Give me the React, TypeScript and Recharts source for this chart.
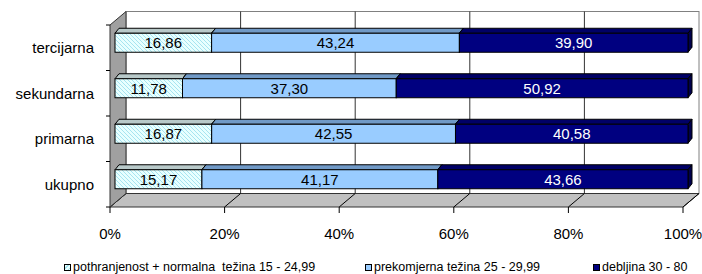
import { BarChart, Bar, XAxis, YAxis } from "recharts";

const categories = ["tercijarna", "sekundarna", "primarna", "ukupno"];
const normalValues = [16.86, 11.78, 16.87, 15.17];
const overweightValues = [43.24, 37.3, 42.55, 41.17];
const obeseValues = [39.9, 50.92, 40.58, 43.66];
const xTicks = [0, 20, 40, 60, 80, 100];
const seriesNames = [
  "pothranjenost + normalna  težina 15 - 24,99",
  "prekomjerna težina 25 - 29,99",
  "debljina 30 - 80",
];

const data = categories.map((name, i) => ({
  name,
  normal: normalValues[i],
  over: overweightValues[i],
  obese: obeseValues[i],
}));

// chart layout, shared by the chart and the 3d box drawn behind it
const W = 702;
const H = 274;
const MARGIN = { top: 25, right: 19, bottom: 37, left: 0 };
const YAXIS_W = 110;
const XAXIS_H = 30;
const PLOT = {
  left: MARGIN.left + YAXIS_W,
  top: MARGIN.top,
  width: W - MARGIN.left - YAXIS_W - MARGIN.right,
  height: H - MARGIN.top - MARGIN.bottom - XAXIS_H,
};

// excel-like 3d look: depth of the whole box and of each bar
const DEPTH = { dx: 16, dy: -13.5 };
const BAR_SHIFT = { dx: 5, dy: -4.75 };
const BAR_DEPTH = { dx: 4, dy: -5 };

const series = [
  { key: "normal", front: "url(#hatch)", top: "#B8C9C9", side: "#9DB0B0", text: "#000", legend: "repeating-linear-gradient(135deg,#E6FFFF 0 2px,#A6E4F0 2px 3px)", left: 64 },
  { key: "over", front: "#99CCFF", top: "#7099C6", side: "#5A82B0", text: "#000", legend: "#99CCFF", left: 365 },
  { key: "obese", front: "#000080", top: "#000066", side: "#00004D", text: "#fff", legend: "#000080", left: 593 },
];

const fmt = (v: number) => v.toFixed(2).replace(".", ",");

function make3DBar(key: string, style: (typeof series)[number]) {
  return (props: any) => {
    const { x, y, width, height, payload } = props;
    if (width == null || width <= 0) return <g />;
    const fx = x + BAR_SHIFT.dx;
    const fy = y + BAR_SHIFT.dy;
    const r = fx + width;
    const b = fy + height;
    const { dx, dy } = BAR_DEPTH;
    return (
      <g>
        <polygon
          points={`${fx},${fy} ${fx + dx},${fy + dy} ${r + dx},${fy + dy} ${r},${fy}`}
          fill={style.top}
          stroke="#000"
        />
        <polygon
          points={`${r},${fy} ${r + dx},${fy + dy} ${r + dx},${b + dy} ${r},${b}`}
          fill={style.side}
          stroke="#000"
        />
        <rect x={fx} y={fy} width={width} height={height} fill={style.front} stroke="#000" />
        <text
          x={fx + width / 2}
          y={fy + height / 2}
          textAnchor="middle"
          dominantBaseline="central"
          fontSize={15}
          fill={style.text}
        >
          {fmt(payload[key])}
        </text>
      </g>
    );
  };
}

// back wall, floor and left wall of the 3d box
function Walls() {
  const { left: l, top: t, width, height } = PLOT;
  const r = l + width, b = t + height;
  const { dx, dy } = DEPTH;
  const gx = xTicks.map((v) => l + (v / 100) * width);
  const n = categories.length;
  return (
    <svg width={W} height={H} style={{ position: "absolute", left: 0, top: 0 }}>
      <defs>
        <pattern id="hatch" patternUnits="userSpaceOnUse" width="4" height="4">
          <rect width="4" height="4" fill="#E8FFFF" />
          <path d="M-1,-1 L5,5 M-1,3 L1,5 M3,-1 L5,1" stroke="#A6E4F0" strokeWidth="1" />
        </pattern>
      </defs>
      <rect x={l + dx} y={t + dy} width={width} height={height} fill="#fff" stroke="#808080" />
      {gx.slice(1, -1).map((g, i) => (
        <line key={"g" + i} x1={g + dx} x2={g + dx} y1={t + dy} y2={b + dy} stroke="#333" />
      ))}
      <polygon
        points={`${l},${b} ${r},${b} ${r + dx},${b + dy} ${l + dx},${b + dy}`}
        fill="#C0C0C0"
        stroke="#333"
      />
      {gx.map((g, i) => (
        <line key={"d" + i} x1={g} y1={b} x2={g + dx} y2={b + dy} stroke="#000" />
      ))}
      <polygon
        points={`${l},${t} ${l + dx},${t + dy} ${l + dx},${b + dy} ${l},${b}`}
        fill="#A0A0A0"
        stroke="#333"
      />
      {Array.from({ length: n + 1 }, (_, i) => (
        <line key={"t" + i} x1={l - 4} x2={l} y1={t + (i * height) / n} y2={t + (i * height) / n} stroke="#000" />
      ))}
    </svg>
  );
}

export default function App() {
  return (
    <div style={{ position: "relative", width: W, height: H, fontFamily: "'Liberation Sans', Arial, sans-serif" }}>
      <style>{"body{margin:0}"}</style>
      <Walls />
      <BarChart
        width={W}
        height={H}
        data={data}
        layout="vertical"
        margin={MARGIN}
        barSize={19}
      >
        <XAxis
          type="number"
          domain={[0, 100]}
          ticks={xTicks}
          interval={0}
          tickFormatter={(v) => `${v}%`}
          axisLine={false}
          tickLine={{ stroke: "#000" }}
          tickSize={6}
          tickMargin={15}
          height={XAXIS_H}
          tick={{ fontSize: 15, fill: "#000" }}
        />
        <YAxis
          type="category"
          dataKey="name"
          width={YAXIS_W}
          interval={0}
          axisLine={false}
          tickLine={false}
          tickSize={0}
          tickMargin={16}
          tick={{ fontSize: 15, fill: "#000" }}
        />
        {series.map((s) => (
          <Bar
            key={s.key}
            dataKey={s.key}
            stackId="a"
            isAnimationActive={false}
            shape={make3DBar(s.key, s)}
          />
        ))}
      </BarChart>
      {series.map((s, i) => (
        <div
          key={s.key}
          style={{
            position: "absolute",
            left: s.left,
            top: 259,
            display: "flex",
            alignItems: "center",
            fontSize: 12.5,
            lineHeight: "16px",
            whiteSpace: "pre",
            color: "#000",
          }}
        >
          <span
            style={{
              display: "inline-block",
              width: 5,
              height: 5,
              border: "1px solid #000",
              background: s.legend,
              marginRight: 2,
            }}
          />
          {seriesNames[i]}
        </div>
      ))}
    </div>
  );
}
